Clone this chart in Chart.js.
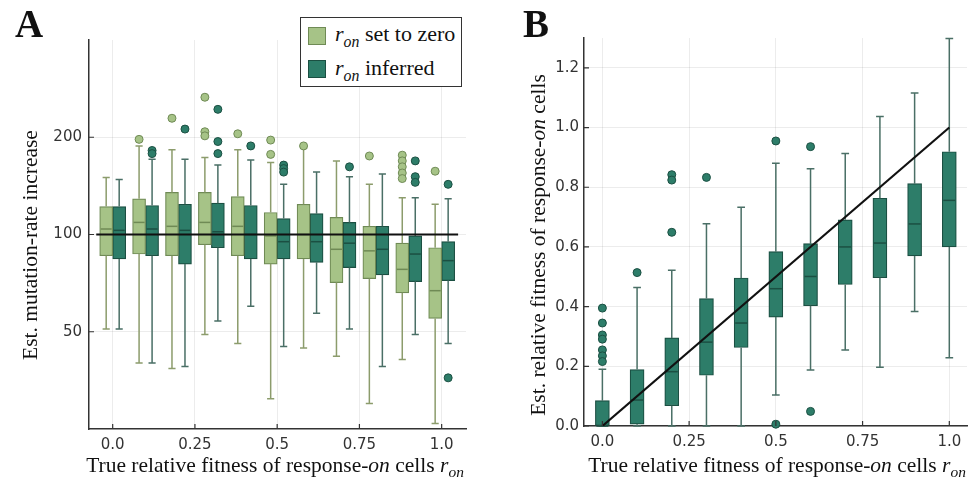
<!DOCTYPE html>
<html>
<head>
<meta charset="utf-8">
<script src="https://cdn.jsdelivr.net/npm/chart.js@4.4.0/dist/chart.umd.min.js"></script>
<style>
  body { margin: 0; background: #fff; width: 977px; height: 480px; position: relative; overflow: hidden;
         font-family: "Liberation Serif", "DejaVu Serif", serif; color: #111; }
  .panel { position: absolute; top: 0; height: 480px; }
  #pa { left: 0; width: 490px; }
  #pb { left: 490px; width: 487px; }
  .tag { position: absolute; top: 4px; font-weight: bold; font-size: 39px; line-height: 39px; }
  .xt { position: absolute; top: 453px; font-size: 21.5px; line-height: 25px; white-space: nowrap; transform: translateX(-50%); }
  .yt { position: absolute; font-size: 21.5px; line-height: 25px; white-space: nowrap; transform: translate(-50%, -50%) rotate(-90deg); }
  .r sub { font-size: 0.72em; vertical-align: -0.35em; line-height: 0; }
  .legend { position: absolute; left: 300px; top: 17px; width: 162px; height: 70px; border: 1px solid #333;
            box-sizing: border-box; background: #fff; }
  .sw { position: absolute; left: 7px; width: 18px; height: 18px; box-sizing: border-box; border: 1px solid; }
  .lt { position: absolute; left: 34px; font-size: 22px; line-height: 26px; white-space: nowrap; }
</style>
</head>
<body>
<div class="panel" id="pa"><canvas id="cA" width="490" height="480"></canvas></div>
<div class="panel" id="pb"><canvas id="cB" width="487" height="480"></canvas></div>

<div class="tag" style="left:15px">A</div>
<div class="tag" style="left:523px">B</div>

<div class="yt" style="left:30px; top:245px">Est. mutation-rate increase</div>
<div class="xt" style="left:275px">True relative fitness of response-<i>on</i> cells <span class="r"><i>r</i><sub><i>on</i></sub></span></div>
<div class="yt" style="left:538px; top:245px">Est. relative fitness of response-<i>on</i> cells</div>
<div class="xt" style="left:777px">True relative fitness of response-<i>on</i> cells <span class="r"><i>r</i><sub><i>on</i></sub></span></div>

<div class="legend">
  <div class="sw" style="top:9px; background:#a6c387; border-color:#6f8a55"></div>
  <div class="lt r" style="top:3px"><i>r</i><sub><i>on</i></sub> set to zero</div>
  <div class="sw" style="top:42px; background:#2d7d69; border-color:#1b4f42"></div>
  <div class="lt r" style="top:37px"><i>r</i><sub><i>on</i></sub> inferred</div>
</div>

<script>
// true relative fitness of response-on cells
const rOn = [0, 0.1, 0.2, 0.3, 0.4, 0.5, 0.6, 0.7, 0.8, 0.9, 1.0];

// panel A: r_on set to zero (mutation-rate increase)
const zeroLo  = [51, 40, 38.5, 49, 46, 31, 44.5, 42, 30, 41, 26];
const zeroQ1  = [86, 87, 86, 93, 86, 81, 84, 71, 73, 66, 55];
const zeroMed = [104, 109, 106, 109, 106, 99, 100, 90, 89, 78, 67];
const zeroQ3  = [122, 129, 135, 135, 131, 117, 124, 113, 106, 94, 91];
const zeroHi  = [150, 188, 183, 173, 183, 167, 185, 169, 143, 130, 124];
const zeroOut = [[], [197], [229], [266, 208, 202], [205], [196, 177], [188], [], [175], [176, 169, 162, 155, 149], [157]];

// panel A: r_on inferred
const infLo  = [51, 40, 39, 54, 60, 45, 57, 51, 39, 49, 46];
const infQ1  = [84, 86, 81, 91, 84, 84, 82, 79, 75, 71.5, 72];
const infMed = [103, 104, 103, 102, 100, 95, 95, 94, 90, 87, 83];
const infQ3  = [122, 123, 124, 125, 123, 112, 116, 109, 106, 99, 95];
const infHi  = [148, 171, 171, 164, 170, 143, 156, 151, 154, 130, 129];
const infOut = [[], [182, 178], [212], [244, 194, 178], [188], [164, 160, 156], [], [162], [], [169, 151, 145], [143, 36]];

// panel B: estimated relative fitness of response-on cells
const fitLo  = [0, 0, 0, 0, 0, 0.104, 0.188, 0.255, 0.197, 0.384, 0.229];
const fitQ1  = [0, 0.006, 0.068, 0.17, 0.263, 0.365, 0.403, 0.474, 0.497, 0.57, 0.6];
const fitMed = [0, 0.087, 0.182, 0.281, 0.345, 0.46, 0.501, 0.6, 0.613, 0.677, 0.756];
const fitQ3  = [0.085, 0.189, 0.295, 0.427, 0.496, 0.584, 0.611, 0.691, 0.763, 0.812, 0.919];
const fitHi  = [0.19, 0.464, 0.522, 0.678, 0.733, 0.88, 0.862, 0.913, 1.037, 1.116, 1.298];
const fitOut = [[0.395, 0.345, 0.305, 0.291, 0.255, 0.235, 0.216], [0.514], [0.842, 0.824, 0.649], [0.833], [],
                [0.955, 0.006], [0.936, 0.049], [], [], [], []];

// reference lines
const neutralX = [-0.05, 1.05];
const neutralY = [100, 100];
const idealX = [0, 1];
const idealY = [0, 1];

// ticks
const xTicks = [0, 0.25, 0.5, 0.75, 1.0];
const xTickLabels = ['0.0', '0.25', '0.5', '0.75', '1.0'];
const yTicksA = [50, 100, 200];
const yTicksB = [0, 0.2, 0.4, 0.6, 0.8, 1.0, 1.2];
const yTickLabelsB = ['0.0', '0.2', '0.4', '0.6', '0.8', '1.0', '1.2'];

const LIGHT = '#a6c387', LIGHT_EDGE = '#6f8a55', LIGHT_WHISK = '#8c9c6c';
const DARK = '#2d7d69', DARK_EDGE = '#1b4f42', DARK_WHISK = '#4a6f66';

function boxData(q1, q3) {
  return rOn.map((x, i) => ({ x: x, y: [q1[i], q3[i]] }));
}
function lineData(xs, ys) {
  return xs.map((x, i) => ({ x: x, y: ys[i] }));
}

// whiskers, medians and outliers, drawn right after each box dataset
const boxWhiskers = {
  id: 'boxWhiskers',
  afterDatasetDraw(chart, args) {
    const ds = chart.data.datasets[args.index];
    const s = ds.box;
    if (!s) return;
    const ctx = chart.ctx, ys = chart.scales.y;
    ctx.save();
    args.meta.data.forEach((bar, i) => {
      const x = bar.x, half = bar.width / 2, cap = half * 0.55;
      const pLo = ys.getPixelForValue(s.lo[i]), pQ1 = ys.getPixelForValue(s.q1[i]);
      const pQ3 = ys.getPixelForValue(s.q3[i]), pHi = ys.getPixelForValue(s.hi[i]);
      const pMed = ys.getPixelForValue(s.med[i]);
      ctx.strokeStyle = s.whisker;
      ctx.lineWidth = 1.5;
      ctx.beginPath();
      ctx.moveTo(x, pQ3); ctx.lineTo(x, pHi);
      ctx.moveTo(x - cap, pHi); ctx.lineTo(x + cap, pHi);
      ctx.moveTo(x, pQ1); ctx.lineTo(x, pLo);
      ctx.moveTo(x - cap, pLo); ctx.lineTo(x + cap, pLo);
      ctx.stroke();
      ctx.strokeStyle = s.median;
      ctx.lineWidth = 1.5;
      ctx.beginPath();
      ctx.moveTo(x - half + 1, pMed); ctx.lineTo(x + half - 1, pMed);
      ctx.stroke();
      ctx.fillStyle = ds.backgroundColor;
      ctx.strokeStyle = ds.borderColor;
      ctx.lineWidth = 1;
      s.out[i].forEach(v => {
        ctx.beginPath();
        ctx.arc(x, ys.getPixelForValue(v), 4, 0, Math.PI * 2);
        ctx.fill();
        ctx.stroke();
      });
    });
    ctx.restore();
  },
  afterDraw(chart) {
    const ctx = chart.ctx, a = chart.chartArea;
    ctx.save();
    ctx.strokeStyle = '#333';
    ctx.lineWidth = 1.2;
    ctx.beginPath();
    chart.scales.x.ticks.forEach(t => {
      const px = chart.scales.x.getPixelForValue(t.value);
      ctx.moveTo(px, a.bottom); ctx.lineTo(px, a.bottom - 5);
    });
    chart.scales.y.ticks.forEach(t => {
      const py = chart.scales.y.getPixelForValue(t.value);
      ctx.moveTo(a.left, py); ctx.lineTo(a.left + 5, py);
    });
    ctx.stroke();
    ctx.restore();
  }
};

const tickFont = { family: 'DejaVu Sans', size: 15 };
const gridStyle = { color: 'rgba(0,0,0,0.075)', drawTicks: false, offset: false };
const borderStyle = { color: '#333', width: 1.5 };

function xScale(min, max, h) {
  return {
    type: 'linear', min: min, max: max, offset: false,
    grid: gridStyle, border: borderStyle,
    afterBuildTicks: s => { s.ticks = xTicks.map(v => ({ value: v })); },
    afterFit: s => { s.height = h; },
    ticks: { font: tickFont, color: '#333', padding: 7, maxRotation: 0,
             callback: (v, i) => xTickLabels[i] }
  };
}

new Chart(document.getElementById('cA'), {
  type: 'bar',
  data: {
    datasets: [
      { label: 'r_on set to zero', data: boxData(zeroQ1, zeroQ3),
        box: { lo: zeroLo, q1: zeroQ1, med: zeroMed, q3: zeroQ3, hi: zeroHi, out: zeroOut,
               whisker: LIGHT_WHISK, median: LIGHT_EDGE },
        backgroundColor: LIGHT, borderColor: LIGHT_EDGE, borderWidth: 1.2, borderSkipped: false,
        barThickness: 13, order: 2 },
      { label: 'r_on inferred', data: boxData(infQ1, infQ3),
        box: { lo: infLo, q1: infQ1, med: infMed, q3: infQ3, hi: infHi, out: infOut,
               whisker: DARK_WHISK, median: DARK_EDGE },
        backgroundColor: DARK, borderColor: DARK_EDGE, borderWidth: 1.2, borderSkipped: false,
        barThickness: 13, order: 2 },
      { type: 'line', data: lineData(neutralX, neutralY), borderColor: '#111', borderWidth: 2.2,
        pointRadius: 0, fill: false, order: 0 }
    ]
  },
  options: {
    responsive: false, animation: false, devicePixelRatio: 1,
    layout: { padding: { top: 40, right: 24, left: 0, bottom: 0 } },
    plugins: { legend: { display: false }, tooltip: { enabled: false } },
    scales: {
      x: xScale(-0.072, 1.074, 51),
      y: {
        type: 'logarithmic', min: 25, max: 400,
        grid: gridStyle, border: borderStyle,
        afterBuildTicks: s => { s.ticks = yTicksA.map(v => ({ value: v })); },
        afterFit: s => { s.width = 89; },
        ticks: { font: tickFont, color: '#333', padding: 7, callback: v => String(v) }
      }
    }
  },
  plugins: [boxWhiskers]
});

new Chart(document.getElementById('cB'), {
  type: 'bar',
  data: {
    datasets: [
      { label: 'estimate', data: rOn.map((x, i) => ({ x: x, y: [fitQ1[i], fitQ3[i]] })),
        box: { lo: fitLo, q1: fitQ1, med: fitMed, q3: fitQ3, hi: fitHi, out: fitOut,
               whisker: DARK_WHISK, median: DARK_EDGE },
        backgroundColor: DARK, borderColor: DARK_EDGE, borderWidth: 1.2, borderSkipped: false,
        barThickness: 14, order: 2 },
      { type: 'line', data: lineData(idealX, idealY), borderColor: '#111', borderWidth: 2.2,
        pointRadius: 0, fill: false, order: 0 }
    ]
  },
  options: {
    responsive: false, animation: false, devicePixelRatio: 1,
    layout: { padding: { top: 38, right: 10, left: 0, bottom: 0 } },
    plugins: { legend: { display: false }, tooltip: { enabled: false } },
    scales: {
      x: xScale(-0.053, 1.051, 54),
      y: {
        type: 'linear', min: 0, max: 1.3,
        grid: gridStyle, border: borderStyle,
        afterBuildTicks: s => { s.ticks = yTicksB.map(v => ({ value: v })); },
        afterFit: s => { s.width = 94; },
        ticks: { font: tickFont, color: '#333', padding: 5, callback: (v, i) => yTickLabelsB[i] }
      }
    }
  },
  plugins: [boxWhiskers]
});
</script>
</body>
</html>
